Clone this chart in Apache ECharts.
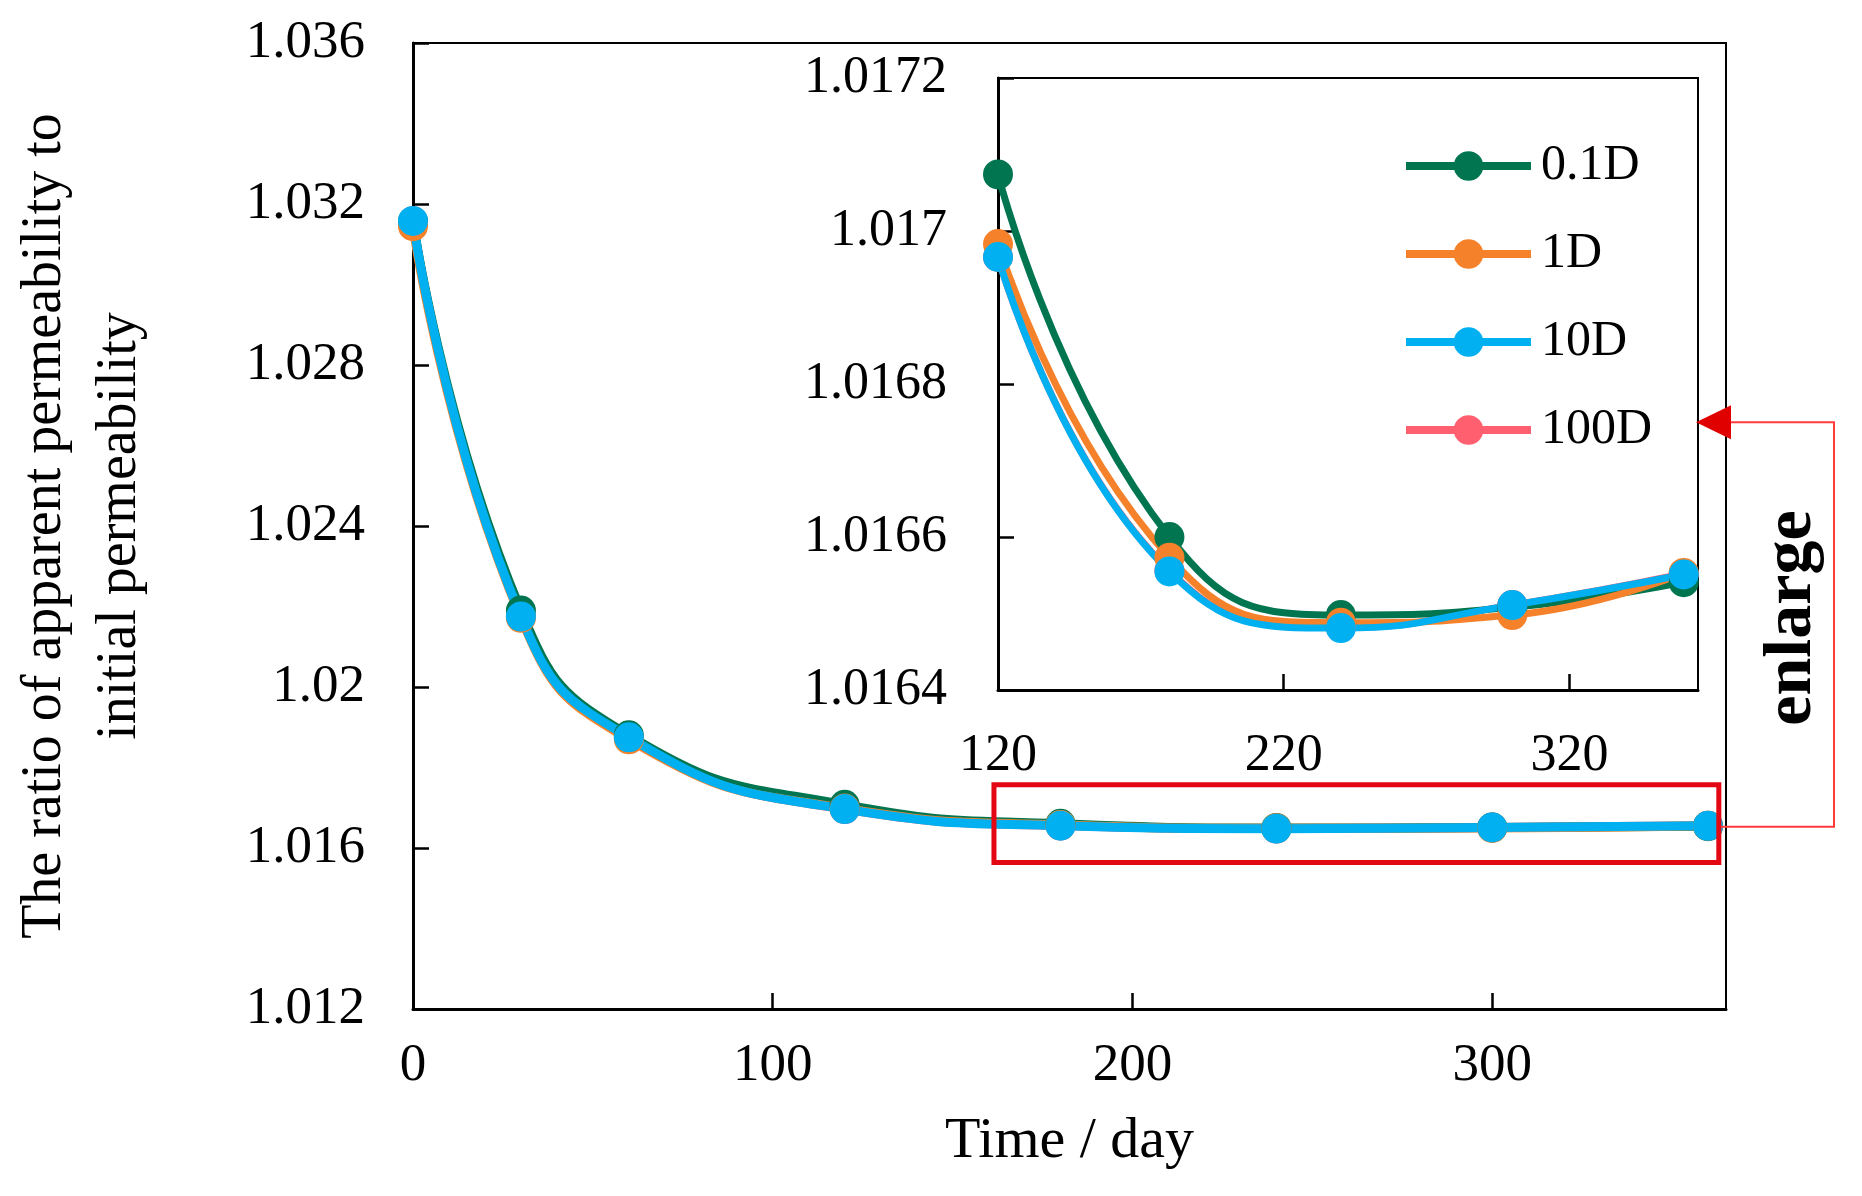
<!DOCTYPE html>
<html>
<head>
<meta charset="utf-8">
<script src="https://cdn.jsdelivr.net/npm/echarts@6.0.0/dist/echarts.min.js"></script>
<style>
  html, body { margin: 0; padding: 0; background: #fff; }
  #chart { width: 1862px; height: 1196px; }
</style>
</head>
<body>
<div id="chart"></div>
<script>
// time points (day)
const days = [0, 30, 60, 120, 180, 240, 300, 360];

// apparent / initial permeability
const k01  = [1.03156, 1.02190, 1.01880, 1.017074, 1.016600, 1.016498, 1.016508, 1.016541];
const k1   = [1.03145, 1.02172, 1.01870, 1.016983, 1.016573, 1.016488, 1.016498, 1.016553];
const k10  = [1.03158, 1.02175, 1.01875, 1.016966, 1.016555, 1.016481, 1.016511, 1.016551];
const k100 = [1.03157, 1.02175, 1.01875, 1.016966, 1.016556, 1.016482, 1.016511, 1.016552];

const names  = ['0.1D', '1D', '10D', '100D'];
const colors = { '0.1D': '#00754f', '1D': '#f5822a', '10D': '#00b0f0', '100D': '#ff5f6f' };
const values = { '0.1D': k01, '1D': k1, '10D': k10, '100D': k100 };

// inset shows day >= 120
const insetFrom = 3;
const insetTicks = [120, 220, 320];

// zoomed region marked on the main plot (data space)
const zoomBoxX = [161.5, 363];
const zoomBoxY = [1.01564, 1.01757];

const FONT = '"Liberation Serif", "Times New Roman", serif';

const chart = echarts.init(document.getElementById('chart'));

const pairs = (xs, ys) => xs.map((x, i) => [x, ys[i]]);

// drawing order: 100D lowest, 10D on top
const drawOrder = ['100D', '0.1D', '1D', '10D'];
const series = [];
drawOrder.forEach(name => {
    series.push({
        name: name,
        type: 'line',
        xAxisIndex: 0,
        yAxisIndex: 0,
        data: pairs(days, values[name]),
        smooth: 0.5,
        symbol: 'circle',
        symbolSize: 30,
        clip: false,
        itemStyle: { color: colors[name] },
        lineStyle: { width: 9, color: colors[name] }
    });
});
drawOrder.forEach(name => {
    series.push({
        name: name,
        type: 'line',
        xAxisIndex: 1,
        yAxisIndex: 1,
        data: pairs(days.slice(insetFrom), values[name].slice(insetFrom)),
        smooth: 0.5,
        symbol: 'circle',
        symbolSize: 30,
        clip: false,
        z: 5,
        itemStyle: { color: colors[name] },
        lineStyle: { width: 7, color: colors[name] }
    });
});

const tickStyle = { show: true, inside: true, length: 16, lineStyle: { color: '#000', width: 2.5 } };
const lineStyle3 = { show: true, onZero: false, lineStyle: { color: '#000', width: 3 } };

const option = {
    animation: false,
    backgroundColor: '#fff',
    grid: [
        { left: 410, top: 43, width: 1316, height: 966, show: true, borderColor: '#000', borderWidth: 2, z: 0 },
        { left: 998, top: 78, width: 700, height: 612, show: true, borderColor: '#000', borderWidth: 2,
          backgroundColor: '#fff', z: 3 }
    ],
    xAxis: [
        {
            type: 'value', gridIndex: 0, min: 0, max: 365, interval: 100,
            name: 'Time / day', nameLocation: 'middle', nameGap: 104,
            nameTextStyle: { fontFamily: FONT, fontSize: 58, color: '#000' },
            axisLine: lineStyle3,
            axisTick: tickStyle,
            axisLabel: { fontFamily: FONT, fontSize: 53, color: '#000', margin: 31, showMaxLabel: false },
            splitLine: { show: false }
        },
        {
            type: 'value', gridIndex: 1, min: 120, max: 365, z: 4,
            axisLine: lineStyle3,
            axisTick: Object.assign({}, tickStyle, { customValues: insetTicks }),
            axisLabel: { fontFamily: FONT, fontSize: 52, color: '#000', margin: 40, customValues: insetTicks },
            splitLine: { show: false }
        }
    ],
    yAxis: [
        {
            type: 'value', gridIndex: 0, min: 1.012, max: 1.036, interval: 0.004,
            name: 'The ratio of apparent permeability to\ninitial permeability',
            nameLocation: 'middle', nameRotate: 90, nameGap: 255,
            nameTextStyle: { fontFamily: FONT, fontSize: 56, lineHeight: 75, color: '#000' },
            axisLine: lineStyle3,
            axisTick: tickStyle,
            axisLabel: { fontFamily: FONT, fontSize: 53, color: '#000', margin: 48,
                         formatter: v => String(+v.toFixed(3)) },
            splitLine: { show: false }
        },
        {
            type: 'value', gridIndex: 1, min: 1.0164, max: 1.0172, interval: 0.0002, z: 4,
            axisLine: lineStyle3,
            axisTick: tickStyle,
            axisLabel: { fontFamily: FONT, fontSize: 52, color: '#000', margin: 51,
                         formatter: v => String(+v.toFixed(4)) },
            splitLine: { show: false }
        }
    ],
    legend: {
        data: names,
        orient: 'vertical',
        left: 1402,
        top: 141,
        padding: 0,
        itemWidth: 125,
        itemHeight: 37,
        itemGap: 38,
        selectedMode: false,
        z: 10,
        lineStyle: { width: 8 },
        textStyle: { fontFamily: FONT, fontSize: 50, color: '#000', lineHeight: 48, padding: [0, 0, 0, 5] }
    },
    series: series
};

chart.setOption(option);

// annotation: red box on the main plot, connector and "enlarge" label
const a = chart.convertToPixel({ gridIndex: 0 }, [zoomBoxX[0], zoomBoxY[1]]);
const b = chart.convertToPixel({ gridIndex: 0 }, [zoomBoxX[1], zoomBoxY[0]]);
const midY = (a[1] + b[1]) / 2 + 3;
const insetRight = chart.convertToPixel({ gridIndex: 1 }, [365, 1.01675]);
const arrowY = insetRight[1];
const sideX = 1834;

chart.setOption({
    graphic: [
        {
            type: 'rect', z: 100,
            shape: { x: a[0], y: a[1], width: b[0] - a[0], height: b[1] - a[1] },
            style: { fill: null, stroke: '#e30613', lineWidth: 5 }
        },
        {
            type: 'polyline', z: 100,
            shape: { points: [[b[0] + 2, midY], [sideX, midY], [sideX, arrowY], [insetRight[0] + 30, arrowY]] },
            style: { fill: null, stroke: '#ff3b3b', lineWidth: 2 }
        },
        {
            type: 'polygon', z: 100,
            shape: { points: [[insetRight[0] - 2, arrowY], [insetRight[0] + 33, arrowY - 17], [insetRight[0] + 33, arrowY + 17]] },
            style: { fill: '#e00000' }
        },
        {
            type: 'text', z: 100,
            x: 1792, y: 618, rotation: Math.PI / 2,
            style: {
                text: 'enlarge', fontFamily: FONT, fontSize: 68, fontWeight: 'bold',
                fill: '#000', align: 'center', verticalAlign: 'middle'
            }
        }
    ]
});
</script>
</body>
</html>
